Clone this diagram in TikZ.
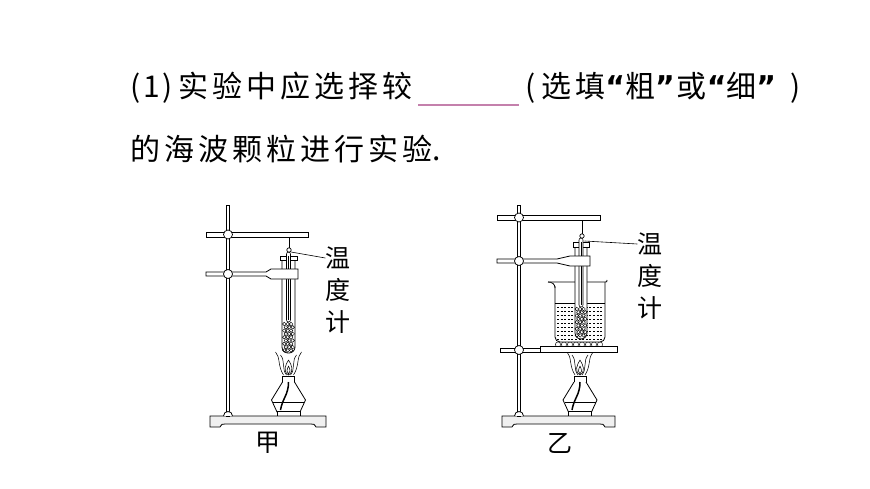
\documentclass[tikz,border=0pt]{standalone}
\usepackage{fontspec}
\newfontfamily\cjk{Noto Sans CJK SC}
\newfontfamily\quo{DejaVu Sans}
\usetikzlibrary{positioning}
\definecolor{blankpink}{RGB}{196,128,172}
\newcommand{\ks}{\hspace{4pt}}
\newcommand{\openq}{{\quo\bfseries “}}
\newcommand{\closeq}{{\quo\bfseries ”}}
\tikzstyle{part}=[line width=0.8pt, fill=white]
\tikzstyle{thin part}=[line width=0.55pt]
\tikzstyle{bead}=[line width=0.45pt]
\tikzstyle{ball}=[part, line width=0.7pt]
\tikzstyle{question}=[font=\cjk\fontsize{30}{36}\selectfont, anchor=base west, inner sep=0]
\tikzstyle{caption text}=[font=\cjk\fontsize{25}{28}\selectfont, inner sep=0]
\tikzstyle{leader}=[line width=0.6pt]

% alcohol lamp, centred at x = #1
\newcommand{\lamp}[1]{%
  \begin{scope}[shift={(#1,0)}]
    \draw[thin part] (-13,352) .. controls (-8,357) and (-11,366) .. (-5,375);
    \draw[thin part] (13,352) .. controls (8,357) and (11,366) .. (5,375);
    \draw[thin part] (-8,355) .. controls (-3,361) and (-7,369) .. (-2,375);
    \draw[thin part] (8,355) .. controls (3,361) and (7,369) .. (2,375);
    \draw[thin part, fill=white] (0,360) .. controls (-3,365) and (-6,371) .. (0,375)
      .. controls (6,371) and (3,365) .. (0,360);
    \draw[thin part] (0,366) .. controls (-2,370) and (-2,373) .. (0,374)
      .. controls (2,373) and (2,370) .. (0,366);
    \draw[part] (-6,376) rectangle (6,382);
    \draw[part] (-6,382) -- (-17,400) -- (-11.5,412) -- (11.5,412) -- (17,400) -- (6,382);
    \draw[thin part] (-15.5,402) -- (15.5,402);
    \draw[line width=1.5pt] (0,382) .. controls (0,395) and (-6,398) .. (-8,410);
    \draw[part] (-11.5,411) rectangle (11.5,416);
  \end{scope}}
% heap of crystals in a test tube
\newcommand{\beads}[2]{%
  \foreach \i in {0,...,8}
    \foreach \j in {-1,0,1}
      \draw[bead] ({#1+3.4*\j-0.8+1.6*mod(\i,2)}, {#2+3.3*\i}) circle (1.8pt);}
% base plate and rod
\newcommand{\standbase}[3]{%
  \draw[part, fill=gray!12] (#1,416) -- (#2,416) -- (#2,427) -- ({#2-10},427)
    .. controls ({#2-12},424) .. ({#2-15},424) -- ({#1+15},424)
    .. controls ({#1+12},424) .. ({#1+10},427) -- (#1,427) -- cycle;
  \draw[part] ({#3-1.5},205) rectangle ({#3+1.5},416);
  \draw[part] ({#3-4.5},416) .. controls ({#3-4.5},410) and ({#3+4.5},410) .. ({#3+4.5},416);}

\begin{document}
\begin{tikzpicture}[x=1pt, y=-1pt]
  \useasboundingbox (0,0) rectangle (870,489);

  % question text
  \node[question] (num) at (130,98) {(\hspace{3pt}1\hspace{3pt})};
  \node[question] (ask) at (178,98) {实\ks 验\ks 中\ks 应\ks 选\ks 择\ks 较};
  \coordinate (blankL) at (418,105);
  \coordinate (blankR) at (519,105);
  \draw[blankpink, line width=1.3pt] (blankL) -- (blankR);
  \node[question] (hint) at (525,98)
    {(\hspace{6pt}选\hspace{4pt}填\openq 粗\closeq\hspace{2pt}或\openq 细\closeq\hspace{14pt})};
  \node[question] (ask2) at (130,161) {的\ks 海\ks 波\ks 颗\ks 粒\ks 进\ks 行\ks 实\ks 验.};

  % apparatus 甲
  \lamp{288.5}
  \draw[thin part] (289,234.5) -- (289,248);
  \draw[part, rounded corners=6pt] (282,258) -- (282,353) -- (295,353) -- (295,258);
  \draw[part] (280,256) rectangle (297,260);
  \beads{288.5}{324}
  \draw[thin part, fill=white, rounded corners=2pt] (286.5,252) rectangle (290.5,322);
  \draw[thin part] (288.5,256) -- (288.5,320);
  \coordinate (bulbL) at (289,250);
  \draw[ball] (bulbL) circle (2.2pt);
  \draw[part] (206,232) rectangle (308,237);
  \draw[part] (206,272) -- (266,272) -- (271,269) -- (298,269) -- (298,279)
    -- (271,279) -- (266,276) -- (206,276) -- cycle;
  \standbase{210}{326}{228}
  \draw[ball] (228,234.5) circle (4.5pt);
  \draw[ball] (228,274) circle (4.5pt);
  \foreach \c [count=\i] in {温,度,计}
    \node[caption text] (thL\i) at (338,{258+32*(\i-1)}) {\c};
  \draw[leader] ([shift={(2,2)}]bulbL) -- (thL1.west);
  \node[caption text] (jia) at (268,443) {甲};

  % apparatus 乙
  \lamp{580}
  \foreach \x in {558,564,...,604}
    \draw[bead] (\x,344.5) circle (2.6pt);
  \draw[part] (500,348) rectangle (540,352);
  \draw[part] (540,346.5) rectangle (617,352);
  \draw[part, rounded corners=5pt] (555,286) -- (555,342) -- (605,342) -- (605,282);
  \draw[part] (548,282) .. controls (552,282) and (555,284) .. (555,288);
  \draw[part] (548,282) -- (605,282) .. controls (607,282) .. (607,280);
  \draw[thin part] (555,303) -- (605,303);
  \foreach \y in {307,311,...,339}
    \draw[thin part, dash pattern=on 2pt off 1.6pt] (557,\y) -- (603,\y);
  \draw[thin part] (582,217.5) -- (582,234);
  \draw[part, rounded corners=6pt] (575,247) -- (575,339) -- (587,339) -- (587,247);
  \draw[part] (573,242) rectangle (589,247);
  \beads{581}{309}
  \draw[thin part, fill=white, rounded corners=2pt] (579,238) rectangle (583,307);
  \draw[thin part] (581,242) -- (581,305);
  \coordinate (bulbR) at (582,236);
  \draw[ball] (bulbR) circle (2.2pt);
  \draw[part] (497,215) rectangle (600,220);
  \draw[part] (497,259) -- (557,259) -- (570,256) -- (590,256) -- (590,266)
    -- (570,266) -- (557,263) -- (497,263) -- cycle;
  \standbase{502}{615}{519}
  \draw[ball] (519,217.5) circle (4.5pt);
  \draw[ball] (519,261) circle (4.5pt);
  \draw[ball] (519,350) circle (4.5pt);
  \foreach \c [count=\i] in {温,度,计}
    \node[caption text] (thR\i) at (650,{244+32*(\i-1)}) {\c};
  \draw[leader] ([shift={(2.5,5)}]bulbR) -- (thR1.west);
  \node[caption text] (yi) at (560,443) {乙};
\end{tikzpicture}
\end{document}
